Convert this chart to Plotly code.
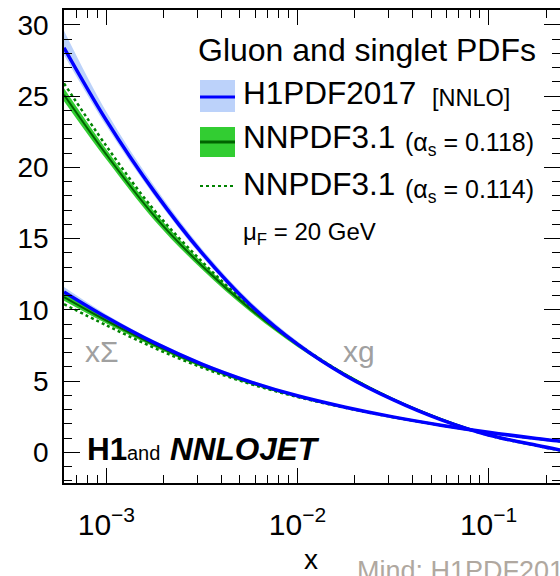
import math
import plotly.graph_objects as go

# ---------------- data ----------------
x_vals = [6.0e-4, 1.0e-3, 1.78e-3, 3.16e-3, 5.62e-3, 1.0e-2, 1.78e-2, 3.16e-2, 5.62e-2, 0.1, 0.178, 0.237]

h1_gluon    = [28.4, 23.3, 18.3, 14.0, 10.4, 7.6, 5.4, 3.7, 2.3, 1.22, 0.5, 0.17]
h1_gluon_hi = [29.6, 23.9, 18.7, 14.3, 10.65, 7.8, 5.55, 3.82, 2.4, 1.3, 0.56, 0.22]
h1_gluon_lo = [27.9, 22.9, 18.0, 13.75, 10.2, 7.45, 5.28, 3.6, 2.22, 1.16, 0.45, 0.13]

h1_sigma    = [11.26, 9.48, 7.70, 6.2, 4.97, 3.97, 3.17, 2.49, 1.91, 1.41, 0.98, 0.79]
h1_sigma_hi = [11.6, 9.68, 7.85, 6.32, 5.07, 4.05, 3.23, 2.54, 1.96, 1.45, 1.02, 0.83]
h1_sigma_lo = [11.05, 9.33, 7.58, 6.1, 4.89, 3.9, 3.12, 2.45, 1.87, 1.37, 0.95, 0.76]

nn118_gluon    = [25.1, 20.9, 16.6, 13.1, 10.1, 7.55, 5.45, 3.74, 2.35, 1.24, 0.5, 0.16]
nn118_gluon_hi = [25.55, 21.25, 16.9, 13.35, 10.3, 7.7, 5.57, 3.84, 2.43, 1.3, 0.55, 0.21]
nn118_gluon_lo = [24.65, 20.55, 16.3, 12.85, 9.9, 7.4, 5.33, 3.64, 2.27, 1.18, 0.45, 0.11]

nn118_sigma    = [10.9, 9.25, 7.55, 6.1, 4.9, 3.93, 3.15, 2.48, 1.91, 1.4, 0.97, 0.78]
nn118_sigma_hi = [11.15, 9.45, 7.7, 6.22, 5.0, 4.01, 3.21, 2.53, 1.96, 1.44, 1.01, 0.82]
nn118_sigma_lo = [10.65, 9.05, 7.4, 5.98, 4.8, 3.85, 3.09, 2.43, 1.86, 1.36, 0.93, 0.74]

nn114_gluon = [25.9, 21.5, 17.0, 13.4, 10.25, 7.62, 5.46, 3.72, 2.31, 1.2, 0.47, 0.13]
nn114_sigma = [10.4, 8.92, 7.33, 5.96, 4.82, 3.89, 3.13, 2.47, 1.9, 1.39, 0.96, 0.77]

x_tickvals = [1e-3, 1e-2, 1e-1]
x_ticktext = ["10<sup>\u22123</sup>", "10<sup>\u22122</sup>", "10<sup>\u22121</sup>"]
y_tickvals = [0, 5, 10, 15, 20, 25, 30]

# ---------------- styles ----------------
FONT = "Liberation Sans, Arial, Helvetica, sans-serif"
BLUE = "rgb(0,0,255)"
LIGHTBLUE = "rgb(188,210,250)"
GREEN = "rgb(50,205,50)"
DKGREEN = "rgb(0,100,0)"
DOTGREEN = "rgb(0,130,0)"
GREY = "rgb(160,160,160)"

W, H = 560, 576
L, R_EDGE, T, B_EDGE = 64, 560, 10, 483


def px(xp):
    return (xp - L) / (R_EDGE - L)


def py(yp):
    return (B_EDGE - yp) / (B_EDGE - T)


fig = go.Figure()


def band(lo, hi, color):
    fig.add_trace(go.Scatter(x=x_vals, y=lo, mode="lines", line=dict(width=0, shape="spline", color=color),
                             showlegend=False, hoverinfo="skip"))
    fig.add_trace(go.Scatter(x=x_vals, y=hi, mode="lines", line=dict(width=0, shape="spline", color=color),
                             fill="tonexty", fillcolor=color, showlegend=False, hoverinfo="skip"))


def line(y, color, width, dash="solid", yaxis="y"):
    fig.add_trace(go.Scatter(x=x_vals, y=y, mode="lines", yaxis=yaxis,
                             line=dict(width=width, color=color, dash=dash, shape="spline"),
                             showlegend=False, hoverinfo="skip"))


band(h1_gluon_lo, h1_gluon_hi, LIGHTBLUE)
band(h1_sigma_lo, h1_sigma_hi, LIGHTBLUE)
band(nn118_gluon_lo, nn118_gluon_hi, GREEN)
band(nn118_sigma_lo, nn118_sigma_hi, GREEN)
line(nn118_gluon, DKGREEN, 2)
line(nn118_sigma, DKGREEN, 2)
line(nn114_gluon, DOTGREEN, 2.5, "dot")
line(nn114_sigma, DOTGREEN, 2.5, "dot")
line(h1_gluon, BLUE, 3.5, yaxis="y2")
line(h1_sigma, BLUE, 3.5, yaxis="y2")

xr = [math.log10(6.0e-4), math.log10(0.2366)]
yr = [-2.15, 31.05]

fig.update_layout(
    width=W, height=H,
    margin=dict(l=L, r=W - R_EDGE, t=T, b=H - B_EDGE, pad=0),
    paper_bgcolor="white", plot_bgcolor="white",
    showlegend=False,
    font=dict(family=FONT, color="black"),
    xaxis=dict(type="log", range=xr, showgrid=False, zeroline=False,
               showline=True, linecolor="black", linewidth=1.5, mirror="ticks",
               ticks="inside", ticklen=15, tickwidth=1, tickcolor="black",
               tickmode="array", tickvals=x_tickvals, ticktext=x_ticktext,
               tickfont=dict(size=30, family=FONT), ticklabelstandoff=14,
               minor=dict(ticks="inside", ticklen=8, tickwidth=1, tickcolor="black",
                          dtick="D1", showgrid=False)),
    yaxis=dict(range=yr, showgrid=False, zeroline=False,
               showline=True, linecolor="black", linewidth=1.5, mirror=False,
               ticks="inside", ticklen=16, tickwidth=1, tickcolor="black",
               tickmode="array", tickvals=y_tickvals,
               tickfont=dict(size=28, family=FONT), ticklabelstandoff=8,
               minor=dict(ticks="inside", ticklen=8, tickwidth=1, tickcolor="black",
                          dtick=1, showgrid=False)),
    yaxis2=dict(range=yr, overlaying="y", side="right", anchor="x", showgrid=False, zeroline=False,
                showline=False, ticks="inside", ticklen=16, tickwidth=1, tickcolor="black",
                tickmode="array", tickvals=y_tickvals, showticklabels=False,
                minor=dict(ticks="inside", ticklen=8, tickwidth=1, tickcolor="black",
                           dtick=1, showgrid=False)),
)

shapes = [
    dict(type="rect", xref="paper", yref="paper", x0=px(200), x1=px(235), y0=py(112), y1=py(80),
         fillcolor=LIGHTBLUE, line=dict(width=0)),
    dict(type="line", xref="paper", yref="paper", x0=px(200), x1=px(235), y0=py(97), y1=py(97),
         line=dict(color=BLUE, width=3)),
    dict(type="rect", xref="paper", yref="paper", x0=px(200), x1=px(235), y0=py(157), y1=py(127),
         fillcolor=GREEN, line=dict(width=0)),
    dict(type="line", xref="paper", yref="paper", x0=px(200), x1=px(235), y0=py(142), y1=py(142),
         line=dict(color=DKGREEN, width=3)),
    dict(type="line", xref="paper", yref="paper", x0=px(200), x1=px(235), y0=py(186), y1=py(186),
         line=dict(color=DOTGREEN, width=2, dash="dot")),
]
fig.update_layout(shapes=shapes)


def ann(text, xp, yp, size, color="black", xanchor="left", yanchor="middle"):
    fig.add_annotation(text=text, x=px(xp), y=py(yp), xref="paper", yref="paper",
                       xanchor=xanchor, yanchor=yanchor, showarrow=False,
                       font=dict(size=size, color=color, family=FONT), borderpad=0, align="left")


ann("Gluon and singlet PDFs", 197, 50, 32)
ann("H1PDF2017", 242, 93, 31.5)
ann("[NNLO]", 431, 98, 23.5)
ann("NNPDF3.1", 242, 137, 31.5)
ann("(\u03b1<sub>s</sub> = 0.118)", 404, 144, 25)
ann("NNPDF3.1", 242, 184, 31.5)
ann("(\u03b1<sub>s</sub> = 0.114)", 404, 191, 25)
ann("\u03bc<sub>F</sub> = 20 GeV", 242, 233, 24)

ann("x\u03a3", 84, 351, 30, GREY)
ann("xg", 342, 351, 30, GREY)

ann("<b>H1</b>", 86, 449, 31.5)
ann("and", 126, 453, 20)
ann("<b><i>NNLOJET</i></b>", 169, 449, 31.5)

ann("x", 311, 576, 28, xanchor="center", yanchor="bottom")
ann("Mind: H1PDF2017", 356, 555, 27, color="rgb(176,168,160)", yanchor="top")

fig.write_html("out.html")
